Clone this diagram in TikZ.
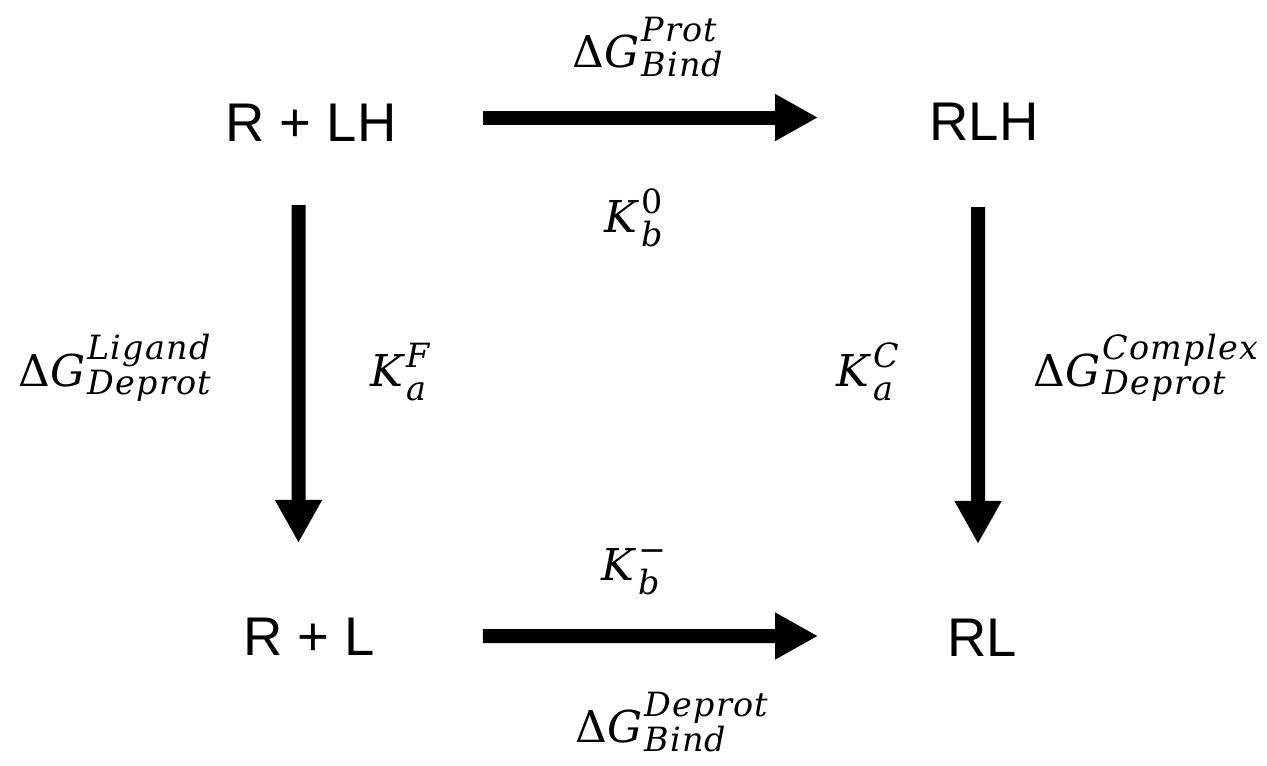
\documentclass[tikz,border=0pt]{standalone}
\usepackage{fontspec}
\setmainfont{DejaVu Serif}
\newfontfamily\spfont{Liberation Sans}
\newfontfamily\lblscriptfam[LetterSpace=4]{DejaVu Serif}
\usepackage{tikz}
\usetikzlibrary{arrows.meta,positioning}

% script pair set beside a base symbol: raise, lower, upper text, lower text
\newcommand{\lblscript}{\lblscriptfam\itshape\fontsize{19}{22}\selectfont}
\newcommand{\supsub}[4]{%
  \setbox0=\hbox{\lblscript #3}\setbox2=\hbox{\lblscript #4}%
  \dimen0=\wd0 \ifdim\wd2>\dimen0 \dimen0=\wd2 \fi
  \hbox to\dimen0{\rlap{\raise#1\box0}\lower#2\box2\hfil}}
\newcommand{\dG}[2]{Δ\textit{G}\kern1pt\supsub{15pt}{5pt}{#1}{#2}}
\newcommand{\Kab}[2]{\textit{K}\kern1pt\supsub{11pt}{8pt}{#1}{#2}}

\begin{document}
\begin{tikzpicture}[
  x=0.02cm,y=-0.02cm,
  species/.style={inner sep=0pt,font=\spfont\fontsize{31}{37}\selectfont},
  lbl/.style={inner sep=0pt,font=\fontsize{25}{30}\selectfont},
  arr/.style={line width=0.28cm,-{Triangle[length=0.86cm,width=0.88cm]}}
]
\useasboundingbox (0,0) rectangle (1267,765);

% corners of the cycle
\node[species] (rlh0) at (311,123) {R + LH};
\node[species] (rlh)  at (984,122) {RLH};
\node[species] (rl0)  at (309,637) {R + L};
\node[species] (rl)   at (982,638) {RL};

% constants and free energies
\node[lbl] (gprot)   at (648,47)  {\dG{Prot}{Bind}};
\node[lbl] (kb0)     at (634,218) {\Kab{\upshape 0}{b}};
\node[lbl] (glig)    at (115,368) {\dG{Ligand}{Deprot}};
\node[lbl] (kaf)     at (400,372) {\Kab{F}{a}};
\node[lbl] (kac)     at (868,372) {\Kab{C}{a}};
\node[lbl] (gcomp)   at (1146,368) {\dG{Complex}{Deprot}};
\node[lbl] (kbm)     at (634,572) {\Kab{\upshape −}{b}};
\node[lbl] (gdeprot) at (672,722) {\dG{Deprot}{Bind}};

% arrows
\draw[arr,shorten <=3.44cm,shorten >=3.32cm]
  ([yshift=0.11cm]rlh0.center) -- ([yshift=0.09cm]rlh.center);
\draw[arr,shorten <=3.48cm,shorten >=3.28cm]
  ([yshift=0.02cm]rl0.center) -- ([yshift=0.04cm]rl.center);
\draw[arr,shorten <=1.26cm,shorten >=1.5cm]
  ([xshift=-0.25cm]rlh0.south) -- ([xshift=-0.21cm]rl0.north);
\draw[arr,shorten <=1.32cm,shorten >=1.5cm]
  ([xshift=-0.12cm]rlh.south) -- ([xshift=-0.08cm]rl.north);
\end{tikzpicture}
\end{document}
